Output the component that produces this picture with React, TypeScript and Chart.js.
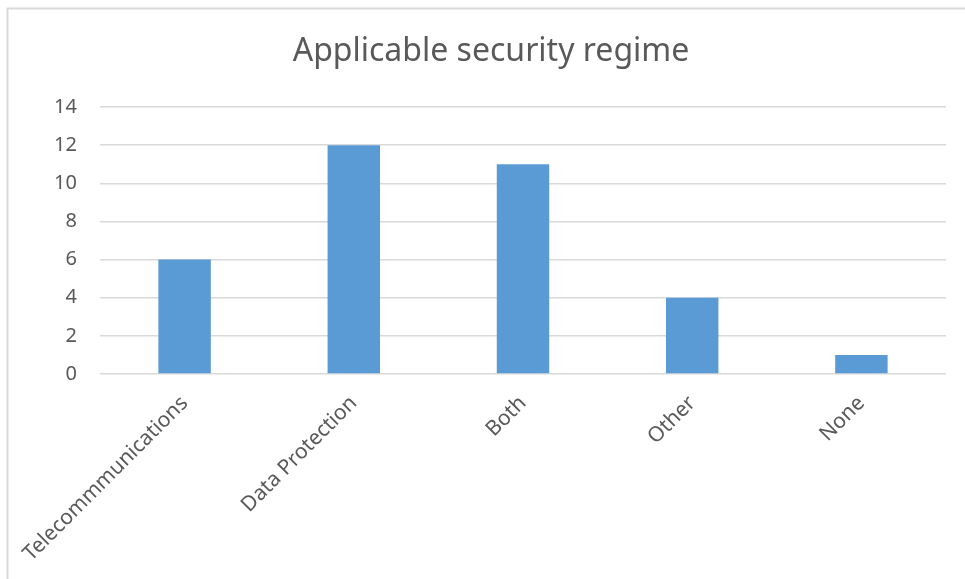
import React, { useEffect, useRef } from "react";
import { Chart, registerables } from "chart.js";

Chart.register(...registerables);

const categories = ["Telecommmunications", "Data Protection", "Both", "Other", "None"];
const counts = [6, 12, 11, 4, 1];
const yMin = 0;
const yMax = 14;
const yStep = 2;
const chartTitle = "Applicable security regime";

const TEXT = "#595959";
const GRID = "#d9d9d9";
const BAR = "#5b9bd5";
const FONT = "'Noto Sans', 'Open Sans', sans-serif";

// Light frame along the top and left edges, plus the centred heading
const framePlugin = {
  id: "frame",
  beforeDraw(chart: Chart) {
    const { ctx, width, height } = chart;
    ctx.save();
    ctx.strokeStyle = GRID;
    ctx.lineWidth = 2;
    ctx.beginPath();
    ctx.moveTo(7.5, height);
    ctx.lineTo(7.5, 8.5);
    ctx.lineTo(width, 8.5);
    ctx.stroke();

    ctx.fillStyle = TEXT;
    ctx.font = `normal 32px ${FONT}`;
    ctx.textAlign = "center";
    ctx.textBaseline = "middle";
    ctx.fillText(chartTitle, 491, 52);
    ctx.restore();
  },
};

export default function App() {
  const canvasRef = useRef<HTMLCanvasElement | null>(null);

  useEffect(() => {
    if (!canvasRef.current) return;
    const chart = new Chart(canvasRef.current, {
      type: "bar",
      data: {
        labels: categories,
        datasets: [
          {
            label: "Count",
            data: counts,
            backgroundColor: BAR,
            borderWidth: 0,
            barPercentage: 0.31,
            categoryPercentage: 1,
          },
        ],
      },
      options: {
        animation: false,
        responsive: true,
        maintainAspectRatio: false,
        layout: { padding: { top: 107, left: 0, right: 19, bottom: 0 } },
        plugins: {
          legend: { display: false },
          tooltip: { enabled: false },
          title: { display: false },
        },
        scales: {
          x: {
            grid: { display: false, drawTicks: false },
            border: { display: false },
            ticks: {
              color: TEXT,
              font: { family: FONT, size: 21 },
              minRotation: 45,
              maxRotation: 45,
              padding: 17,
            },
            afterFit(scale: any) {
              scale.height = 205;
              scale.paddingLeft = 0;
              scale.paddingRight = 0;
            },
          },
          y: {
            min: yMin,
            max: yMax,
            grid: { color: GRID, lineWidth: 1.5, drawTicks: false },
            border: { display: false },
            ticks: {
              stepSize: yStep,
              color: TEXT,
              font: { family: FONT, size: 20 },
              padding: 23,
            },
            afterFit(scale: any) {
              scale.width = 100;
              scale.paddingTop = 0;
              scale.paddingBottom = 0;
            },
          },
        },
      },
      plugins: [framePlugin],
    });
    return () => chart.destroy();
  }, []);

  return (
    <div
      style={{
        position: "fixed",
        left: 0,
        top: 0,
        width: 965,
        height: 579,
        background: "#ffffff",
      }}
    >
      <canvas ref={canvasRef} />
    </div>
  );
}
